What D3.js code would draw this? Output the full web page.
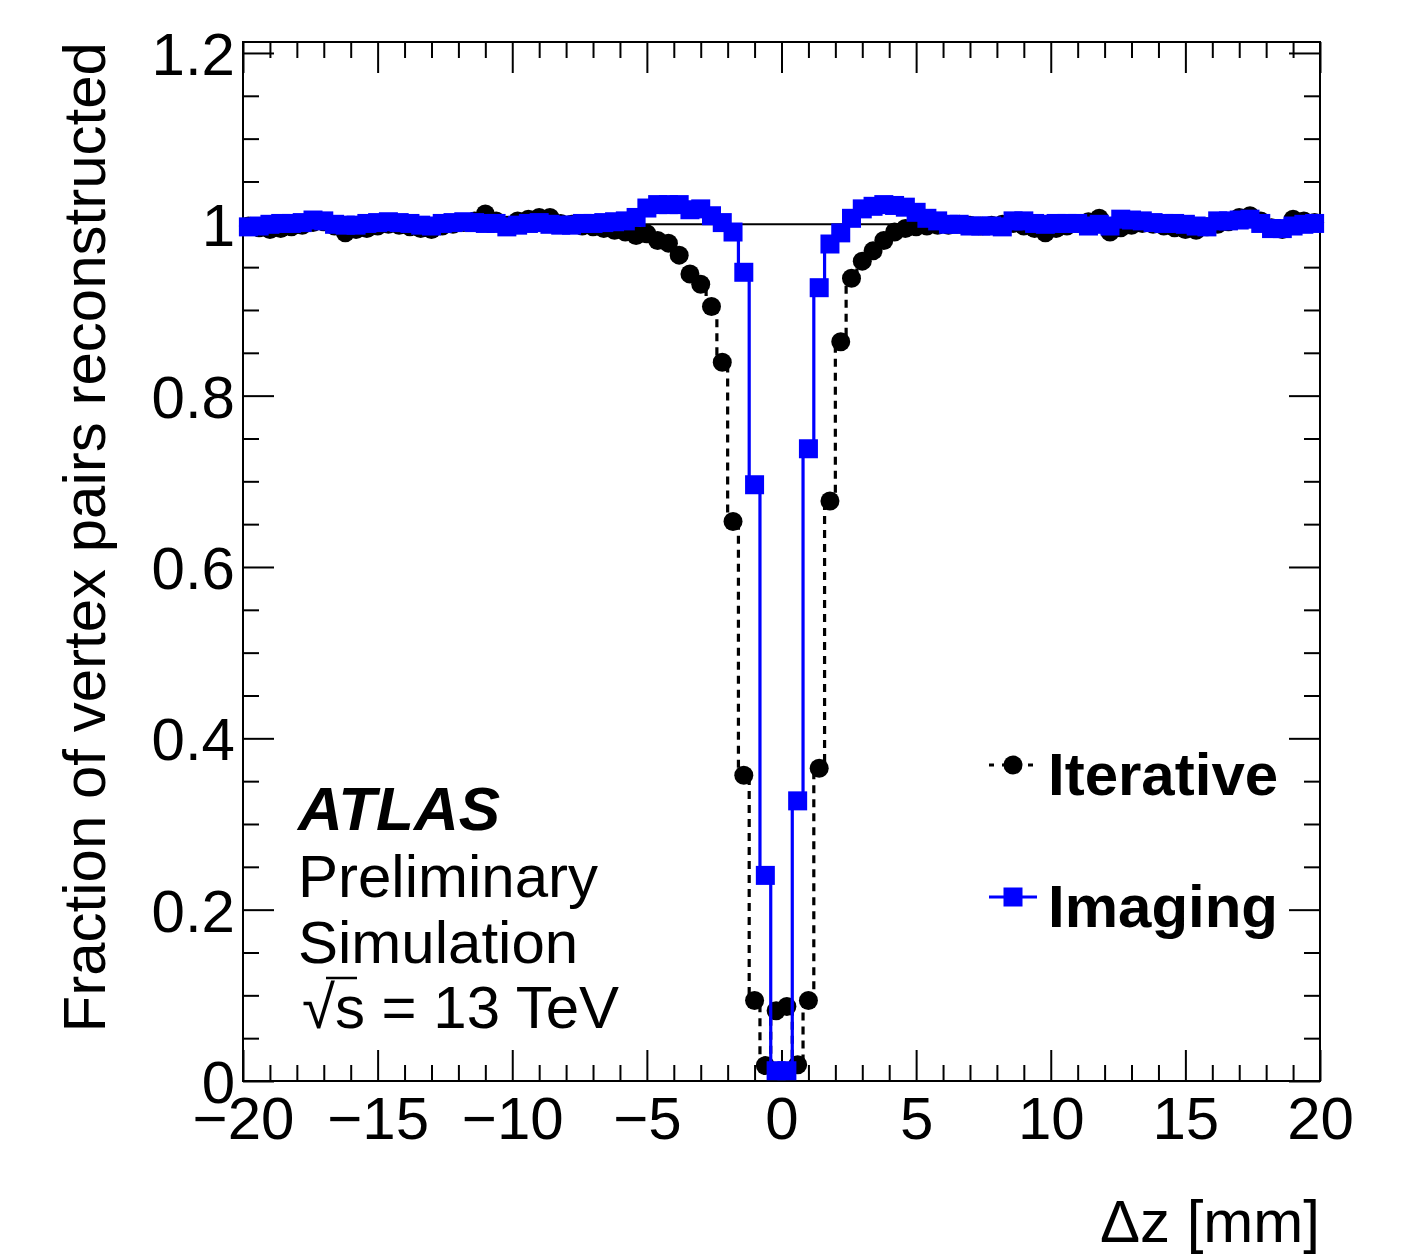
<!DOCTYPE html>
<html><head><meta charset="utf-8">
<script src="https://cdn.jsdelivr.net/npm/d3@7"></script>
<style>
body{margin:0;background:#fff}
svg{display:block}
text{font-family:"Liberation Sans",Arial,Helvetica,sans-serif}
</style>
</head><body><svg id="c" width="1403" height="1257"></svg>
<script>
// ---------- data ----------
const binCenters = [-19.8,-19.4,-19.0,-18.6,-18.2,-17.8,-17.4,-17.0,-16.6,-16.2,
  -15.8,-15.4,-15.0,-14.6,-14.2,-13.8,-13.4,-13.0,-12.6,-12.2,
  -11.8,-11.4,-11.0,-10.6,-10.2,-9.8,-9.4,-9.0,-8.6,-8.2,
  -7.8,-7.4,-7.0,-6.6,-6.2,-5.8,-5.4,-5.0,-4.6,-4.2,
  -3.8,-3.4,-3.0,-2.6,-2.2,-1.8,-1.4,-1.0,-0.6,-0.2,
  0.2,0.6,1.0,1.4,1.8,2.2,2.6,3.0,3.4,3.8,
  4.2,4.6,5.0,5.4,5.8,6.2,6.6,7.0,7.4,7.8,
  8.2,8.6,9.0,9.4,9.8,10.2,10.6,11.0,11.4,11.8,
  12.2,12.6,13.0,13.4,13.8,14.2,14.6,15.0,15.4,15.8,
  16.2,16.6,17.0,17.4,17.8,18.2,18.6,19.0,19.4,19.8];

const iterative = [0.998,0.996,0.994,0.995,0.997,0.999,1.002,1.003,0.998,0.990,
  0.994,0.995,0.998,1.000,0.999,0.997,0.995,0.994,0.998,1.000,
  1.002,1.004,1.012,1.004,0.999,1.004,1.006,1.008,1.008,1.001,
  1.000,0.998,0.997,0.995,0.993,0.991,0.987,0.989,0.981,0.978,
  0.964,0.942,0.930,0.904,0.839,0.653,0.357,0.094,0.018,0.082,
  0.087,0.019,0.094,0.365,0.677,0.863,0.937,0.957,0.969,0.981,
  0.991,0.995,0.997,0.998,0.999,0.999,1.000,0.999,0.998,0.999,
  1.000,1.001,0.998,0.995,0.990,0.995,0.998,1.001,1.003,1.007,
  0.991,0.996,0.999,1.001,1.000,0.998,0.996,0.994,0.993,0.997,
  1.000,1.003,1.008,1.010,1.004,0.996,0.994,1.006,1.004,1.002];

const imaging = [0.997,0.998,1.000,1.001,1.001,1.002,1.005,1.004,1.000,0.999,
  0.999,1.001,1.002,1.003,1.002,1.001,0.999,0.998,1.001,1.002,
  1.003,1.002,1.001,1.001,0.997,0.999,1.001,1.002,1.000,0.999,
  0.999,1.001,1.001,1.002,1.003,1.004,1.008,1.019,1.023,1.023,
  1.023,1.017,1.018,1.010,1.002,0.991,0.944,0.696,0.240,0.012,
  0.012,0.327,0.738,0.926,0.977,0.990,1.007,1.018,1.021,1.023,
  1.022,1.020,1.014,1.007,1.004,1.000,1.000,0.998,0.998,0.998,
  0.997,1.004,1.004,1.001,1.000,1.001,1.001,1.001,0.998,1.000,
  0.998,1.006,1.005,1.004,1.002,1.001,1.001,1.000,0.998,0.997,
  1.004,1.004,1.005,1.006,1.001,0.995,0.995,0.998,1.000,1.001];

const xTicks = [-20,-15,-10,-5,0,5,10,15,20];
const xTickLabels = ["\u221220","\u221215","\u221210","\u22125","0","5","10","15","20"];
const xMinorTicks = [-19,-18,-17,-16,-14,-13,-12,-11,-9,-8,-7,-6,-4,-3,-2,-1,1,2,3,4,6,7,8,9,11,12,13,14,16,17,18,19];
const yTicks = [0,0.2,0.4,0.6,0.8,1,1.2];
const yTickLabels = ["0","0.2","0.4","0.6","0.8","1","1.2"];
const yMinorTicks = [0.05,0.1,0.15,0.25,0.3,0.35,0.45,0.5,0.55,0.65,0.7,0.75,0.85,0.9,0.95,1.05,1.1,1.15];
const seriesNames = ["Iterative","Imaging"];
const textLines = ["Preliminary","Simulation"];

// ---------- layout ----------
const svg = d3.select("#c");
const X0 = 243, X1 = 1320, Y0 = 1081, Y1 = 42;
const x = d3.scaleLinear().domain([-20,20]).range([X0,X1]);
const y = d3.scaleLinear().domain([0,1.2128]).range([Y0,Y1]);
const FS = 60;
const MAJ = 31, MIN = 16;

function styleAxis(g){
  g.select(".domain").remove();
  g.selectAll(".tick line").attr("stroke","#000").attr("stroke-width",2);
  g.selectAll(".tick text").attr("font-size",FS).attr("fill","#000")
    .style("font-family",'"Liberation Sans",Arial,sans-serif');
}

// bottom axis
svg.append("g").attr("transform",`translate(0,${Y0})`)
  .call(d3.axisBottom(x).tickValues(xTicks).tickSize(-MAJ).tickPadding(15)
    .tickFormat((d,i)=>xTickLabels[i]))
  .call(styleAxis);
svg.append("g").attr("transform",`translate(0,${Y0})`)
  .call(d3.axisBottom(x).tickValues(xMinorTicks).tickSize(-MIN).tickFormat(""))
  .call(styleAxis);
// top axis
svg.append("g").attr("transform",`translate(0,${Y1})`)
  .call(d3.axisTop(x).tickValues(xTicks).tickSize(-MAJ).tickFormat(""))
  .call(styleAxis);
svg.append("g").attr("transform",`translate(0,${Y1})`)
  .call(d3.axisTop(x).tickValues(xMinorTicks).tickSize(-MIN).tickFormat(""))
  .call(styleAxis);
// left axis
svg.append("g").attr("transform",`translate(${X0},0)`)
  .call(d3.axisLeft(y).tickValues(yTicks).tickSize(-MAJ).tickPadding(8)
    .tickFormat((d,i)=>yTickLabels[i]))
  .call(styleAxis)
  .call(g=>g.selectAll(".tick text").attr("dy","0.36em"));
svg.append("g").attr("transform",`translate(${X0},0)`)
  .call(d3.axisLeft(y).tickValues(yMinorTicks).tickSize(-MIN).tickFormat(""))
  .call(styleAxis);
// right axis
svg.append("g").attr("transform",`translate(${X1},0)`)
  .call(d3.axisRight(y).tickValues(yTicks).tickSize(-MAJ).tickFormat(""))
  .call(styleAxis);
svg.append("g").attr("transform",`translate(${X1},0)`)
  .call(d3.axisRight(y).tickValues(yMinorTicks).tickSize(-MIN).tickFormat(""))
  .call(styleAxis);

// frame
svg.append("rect").attr("x",X0).attr("y",Y1).attr("width",X1-X0).attr("height",Y0-Y1)
  .attr("fill","none").attr("stroke","#000").attr("stroke-width",2);

// reference line at 1
svg.append("line").attr("x1",X0).attr("x2",X1).attr("y1",y(1)).attr("y2",y(1))
  .attr("stroke","#000").attr("stroke-width",2);

// series (histogram-style steps, vertical edges between bins)
const itData = binCenters.map((c,i)=>[c,iterative[i]]);
const imData = binCenters.map((c,i)=>[c,imaging[i]]);
const line = d3.line().x(d=>x(d[0])).y(d=>y(d[1])).curve(d3.curveStep);

svg.append("path").datum(itData).attr("d",line).attr("fill","none")
  .attr("stroke","#000").attr("stroke-width",3.2).attr("stroke-dasharray","8,6");
svg.append("g").selectAll("circle").data(itData).join("circle")
  .attr("cx",d=>x(d[0])).attr("cy",d=>y(d[1])).attr("r",9.5).attr("fill","#000");

svg.append("path").datum(imData).attr("d",line).attr("fill","none")
  .attr("stroke","#0000ff").attr("stroke-width",3.2);
const SQ = 19;
svg.append("g").selectAll("rect").data(imData).join("rect")
  .attr("x",d=>x(d[0])-SQ/2).attr("y",d=>y(d[1])-SQ/2).attr("width",SQ).attr("height",SQ)
  .attr("fill","#0000ff");

// axis titles
svg.append("text").attr("transform",`translate(105,${Y1}) rotate(-90)`)
  .attr("text-anchor","end").attr("font-size",FS).attr("fill","#000")
  .text("Fraction of vertex pairs reconstructed");
svg.append("text").attr("x",X1).attr("y",1242).attr("text-anchor","end")
  .attr("font-size",FS).attr("fill","#000").text("\u0394z [mm]");

// ATLAS label
svg.append("text").attr("x",298).attr("y",830).attr("font-size",62)
  .attr("font-weight","bold").attr("font-style","italic").text("ATLAS");
svg.append("text").attr("x",298).attr("y",897).attr("font-size",FS).text(textLines[0]);
svg.append("text").attr("x",298).attr("y",963).attr("font-size",FS).text(textLines[1]);
const sq = svg.append("text").attr("x",302).attr("y",1028).attr("font-size",FS);
sq.append("tspan").text("\u221A");
sq.append("tspan").text("s = 13 TeV");
svg.append("line").attr("x1",326).attr("x2",357).attr("y1",978).attr("y2",978)
  .attr("stroke","#000").attr("stroke-width",2.5);

// legend
const lg = svg.append("g");
lg.append("line").attr("x1",989).attr("x2",1037).attr("y1",765).attr("y2",765)
  .attr("stroke","#000").attr("stroke-width",3.2).attr("stroke-dasharray","5,8");
lg.append("circle").attr("cx",1013).attr("cy",765).attr("r",9.5).attr("fill","#000");
lg.append("text").attr("x",1048).attr("y",795).attr("font-size",FS).attr("font-weight","bold")
  .text(seriesNames[0]);
lg.append("line").attr("x1",989).attr("x2",1037).attr("y1",897).attr("y2",897)
  .attr("stroke","#0000ff").attr("stroke-width",3.2);
lg.append("rect").attr("x",1013-SQ/2).attr("y",897-SQ/2).attr("width",SQ).attr("height",SQ)
  .attr("fill","#0000ff");
lg.append("text").attr("x",1048).attr("y",927).attr("font-size",FS).attr("font-weight","bold")
  .text(seriesNames[1]);
</script>
</body></html>
